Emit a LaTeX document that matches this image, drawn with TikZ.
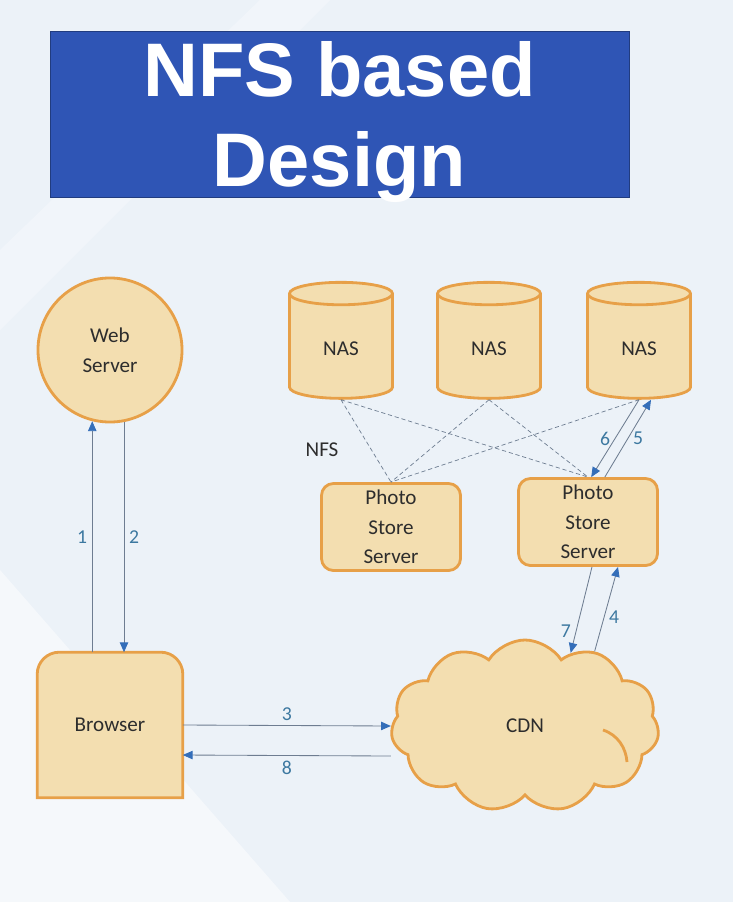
\documentclass[tikz,border=0pt]{standalone}
\usepackage{fontspec}
\setmainfont{Carlito}
\newfontfamily\titlefont{Liberation Sans}
\usetikzlibrary{arrows.meta, shapes.geometric, shapes.symbols, backgrounds}
\definecolor{tanFill}{RGB}{243,222,176}
\definecolor{orangeLine}{RGB}{231,160,72}
\definecolor{titleBlue}{RGB}{47,85,181}
\definecolor{arrowBlue}{RGB}{52,110,185}
\definecolor{lineGrey}{RGB}{110,125,145}
\definecolor{labelBlue}{RGB}{60,120,160}
\definecolor{bgBlue}{RGB}{236,242,248}
\definecolor{textGrey}{RGB}{45,45,45}
\tikzstyle{fTitle} = [rectangle, minimum width=14.475cm, minimum height=4.15cm, text depth=0pt, fill=titleBlue, draw=titleBlue!70!black, text=white, align=center, font=\titlefont\bfseries\fontsize{54}{64}\selectfont]
\tikzstyle{fWeb} = [circle, minimum size=3.6cm, fill=tanFill, draw=orangeLine, line width=2pt, align=center]
\tikzstyle{fBrowser} = [rectangle, minimum width=3.625cm, minimum height=3.625cm]
\tikzstyle{fNas} = [cylinder, shape border rotate=90, aspect=0.5, minimum width=2.575cm, minimum height=2.9cm, fill=tanFill, draw=orangeLine, line width=2pt]
\tikzstyle{fPhoto} = [rectangle, rounded corners=0.3cm, minimum width=3.475cm, minimum height=2.175cm, fill=tanFill, draw=orangeLine, line width=2pt, align=center]
\tikzstyle{fCloud} = [cloud, cloud puffs=11, cloud puff arc=115, cloud ignores aspect, minimum width=6.7cm, minimum height=4.3cm, fill=tanFill, draw=orangeLine, line width=2pt]
\tikzstyle{fArrow} = [lineGrey, line width=0.6pt, -{Triangle[length=7pt, width=6pt, color=arrowBlue]}]
\tikzstyle{fNfs} = [lineGrey, densely dashed, line width=0.5pt]
\tikzstyle{fNum} = [text=labelBlue, font=\fontsize{14}{16}\selectfont]

\begin{document}
\begin{tikzpicture}[x=0.025cm, y=-0.025cm, every node/.style={text=textGrey, font=\fontsize{15}{21}\selectfont}]
    \useasboundingbox (0,0) rectangle (733,902);
    \begin{scope}[on background layer]
        \fill[bgBlue] (0,0) rectangle (733,902);
        \fill[white, opacity=0.5] (0,570) -- (290,902) -- (0,902) -- cycle;
        \fill[white, opacity=0.3] (0,250) -- (260,0) -- (330,0) -- (0,330) -- cycle;
    \end{scope}

    \node (title) [fTitle] at (339.5,114) {NFS based\\Design};

    \node (web) [fWeb] at (110,350) {Web\\Server};
    \node (browser) [fBrowser] at (110,725) {Browser};
    \begin{scope}[on background layer]
        \draw [fill=tanFill, draw=orangeLine, line width=2pt, rounded corners=0.55cm] (browser.south west) -- (browser.north west) -- (browser.north east) [sharp corners] -- (browser.south east) -- cycle;
    \end{scope}

    \node (nas1) [fNas] at (341,349) {NAS};
    \node (nas2) [fNas] at (489,349) {NAS};
    \node (nas3) [fNas] at (639,349) {NAS};
    \node (pss1) [fPhoto] at (391,527) {Photo\\Store\\Server};
    \node (pss2) [fPhoto] at (588,522) {Photo\\Store\\Server};
    \node (cdn) [fCloud] at (525,726) {CDN};
    \node (nfs) at (322,450) {NFS};

    % inner stroke of the cloud
    \draw [orangeLine, line width=2pt] (603,730) .. controls (618,735) and (626,748) .. (627,762);

    % NFS mounts
    \draw [fNfs] (nas1.south) -- (pss1.north);
    \draw [fNfs] (nas1.south) -- (pss2.north);
    \draw [fNfs] (nas2.south) -- (pss1.north);
    \draw [fNfs] (nas2.south) -- (pss2.north);
    \draw [fNfs] (nas3.south) -- (pss1.north);

    \draw [fArrow] (web.256 |- browser.north) -- node[fNum, left] {1} (web.256);
    \draw [fArrow] (web.281) -- node[fNum, right] {2} (web.281 |- browser.north);
    \draw [fArrow] (browser.east) -- node[fNum, above] {3} (cdn.west);
    \draw [fArrow] (cdn.47) -- node[fNum, right, pos=0.4] {4} ([xshift=0.75cm]pss2.south);
    \draw [fArrow] ([xshift=0.42cm]pss2.north) -- node[fNum, right] {5} ([xshift=0.3cm]nas3.south);
    \draw [fArrow] (nas3.south) -- node[fNum, left] {6} ([xshift=0.08cm]pss2.north);
    \draw [fArrow] ([xshift=0.1cm]pss2.south) -- node[fNum, left, pos=0.75] {7} (cdn.58);
    \draw [fArrow] ([yshift=-0.75cm]cdn.west) -- node[fNum, below] {8} ([yshift=-0.75cm]browser.east);
\end{tikzpicture}
\end{document}
